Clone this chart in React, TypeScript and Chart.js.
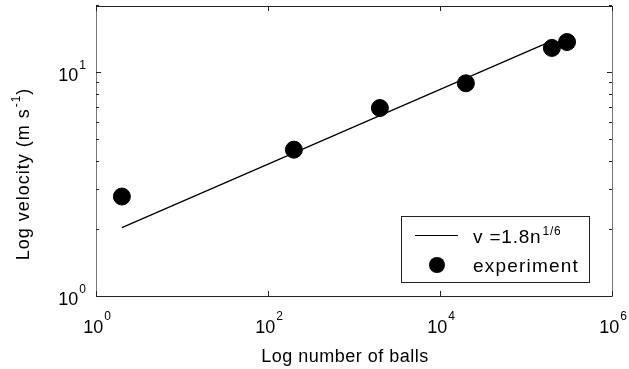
import React, { useEffect, useRef } from "react";
import { Chart, registerables } from "chart.js";

Chart.register(...registerables);

// Data
const expN = [2, 200, 2000, 20000, 200000, 300000];
const expV = [2.78, 4.5, 6.9, 8.9, 12.8, 13.6];
const fitN = [2, 200000];
const fitV = [2.02, 13.76];
const xMajorTicks = [1, 100, 10000, 1000000];
const xTickExps = ["0", "2", "4", "6"];
const yMajorTicks = [1, 10];
const yTickExps = ["0", "1"];
const yMinorTicks = [2, 3, 4, 5, 6, 7, 8, 9, 20];
const fitLabel = "v =1.8n";
const fitLabelExp = "1/6";
const expLabel = "experiment";
const xTitle = "Log number of balls";
const yTitleMain = "Log velocity (m s";
const yTitleExp = "-1";
const yTitleEnd = ")";

const FONT = "'Liberation Sans', Arial, Helvetica, sans-serif";

function drawSup(
  ctx: CanvasRenderingContext2D,
  base: string,
  exp: string,
  tail: string,
  x: number,
  y: number,
  align: "left" | "center" | "right",
  baseSize: number,
  expSize: number,
  raise: number,
  spacing = 0
) {
  ctx.save();
  (ctx as any).letterSpacing = spacing + "px";
  ctx.font = `${baseSize}px ${FONT}`;
  const wb = ctx.measureText(base).width;
  const wt = tail ? ctx.measureText(tail).width : 0;
  ctx.font = `${expSize}px ${FONT}`;
  const we = ctx.measureText(exp).width;
  const total = wb + we + wt + 1;
  let sx = x;
  if (align === "center") sx = x - total / 2;
  else if (align === "right") sx = x - total;
  ctx.textAlign = "left";
  ctx.textBaseline = "alphabetic";
  ctx.fillStyle = "#000";
  ctx.font = `${baseSize}px ${FONT}`;
  ctx.fillText(base, sx, y);
  ctx.font = `${expSize}px ${FONT}`;
  ctx.fillText(exp, sx + wb + 1, y - raise);
  if (tail) {
    ctx.font = `${baseSize}px ${FONT}`;
    ctx.fillText(tail, sx + wb + we + 1, y);
  }
  ctx.restore();
}

const decorPlugin = {
  id: "decor",
  afterDraw(chart: any) {
    const ctx: CanvasRenderingContext2D = chart.ctx;
    const xs = chart.scales.x;
    const ys = chart.scales.y;
    const { left, right, top, bottom } = chart.chartArea;
    ctx.save();
    // box
    ctx.lineWidth = 1;
    ctx.strokeStyle = "#222";
    ctx.beginPath();
    ctx.moveTo(left, top + 0.5);
    ctx.lineTo(right, top + 0.5);
    ctx.moveTo(left, bottom + 0.5);
    ctx.lineTo(right, bottom + 0.5);
    ctx.stroke();
    ctx.strokeStyle = "#777";
    ctx.beginPath();
    ctx.moveTo(left + 0.5, top);
    ctx.lineTo(left + 0.5, bottom + 1);
    ctx.moveTo(right + 0.5, top);
    ctx.lineTo(right + 0.5, bottom + 1);
    ctx.stroke();
    // ticks
    ctx.strokeStyle = "#222";
    ctx.beginPath();
    xMajorTicks.forEach((v) => {
      const px = Math.round(xs.getPixelForValue(v)) + 0.5;
      ctx.moveTo(px, bottom);
      ctx.lineTo(px, bottom - 5);
      ctx.moveTo(px, top);
      ctx.lineTo(px, top + 5);
    });
    yMajorTicks.forEach((v) => {
      const py = Math.round(ys.getPixelForValue(v)) + 0.5;
      ctx.moveTo(left, py);
      ctx.lineTo(left + 5, py);
      ctx.moveTo(right, py);
      ctx.lineTo(right - 5, py);
    });
    yMinorTicks.forEach((v) => {
      const py = Math.round(ys.getPixelForValue(v)) + 0.5;
      ctx.moveTo(left, py);
      ctx.lineTo(left + 3, py);
      ctx.moveTo(right, py);
      ctx.lineTo(right - 3, py);
    });
    ctx.stroke();
    // tick labels
    xMajorTicks.forEach((v, i) => {
      const px = xs.getPixelForValue(v);
      drawSup(ctx, "10", xTickExps[i], "", px + 1, bottom + 37, "center", 18, 12, 13);
    });
    yMajorTicks.forEach((v, i) => {
      const py = ys.getPixelForValue(v);
      drawSup(ctx, "10", yTickExps[i], "", left - 10, py + 9, "right", 18, 12, 12);
    });
    // axis titles
    ctx.save();
    (ctx as any).letterSpacing = "0.5px";
    ctx.font = `18px ${FONT}`;
    ctx.fillStyle = "#000";
    ctx.textAlign = "center";
    ctx.textBaseline = "alphabetic";
    ctx.fillText(xTitle, 345, 362);
    ctx.restore();

    ctx.save();
    ctx.translate(29, 174);
    ctx.rotate(-Math.PI / 2);
    drawSup(ctx, yTitleMain, yTitleExp, yTitleEnd, 0, 0, "center", 18, 12, 9, 1);
    ctx.restore();

    // legend
    const lx = 401, ly = 216, lw = 188, lh = 66;
    ctx.fillStyle = "#fff";
    ctx.fillRect(lx, ly, lw, lh);
    ctx.strokeStyle = "#222";
    ctx.lineWidth = 1;
    ctx.strokeRect(lx + 0.5, ly + 0.5, lw, lh);
    ctx.strokeStyle = "#000";
    ctx.lineWidth = 1.2;
    ctx.beginPath();
    ctx.moveTo(415, 235.5);
    ctx.lineTo(458, 235.5);
    ctx.stroke();
    ctx.fillStyle = "#000";
    ctx.beginPath();
    ctx.arc(437, 265, 8, 0, Math.PI * 2);
    ctx.fill();
    drawSup(ctx, fitLabel, fitLabelExp, "", 473, 243, "left", 19, 12, 8, 0.8);
    ctx.save();
    (ctx as any).letterSpacing = "1.2px";
    ctx.font = `19px ${FONT}`;
    ctx.fillStyle = "#000";
    ctx.textAlign = "left";
    ctx.fillText(expLabel, 473, 272);
    ctx.restore();

    ctx.restore();
  },
};

export default function App() {
  const ref = useRef<HTMLCanvasElement>(null);
  useEffect(() => {
    if (!ref.current) return;
    const chart = new Chart(ref.current, {
      type: "scatter",
      data: {
        datasets: [
          {
            type: "line",
            label: "fit",
            data: fitN.map((n, i) => ({ x: n, y: fitV[i] })),
            borderColor: "#000",
            borderWidth: 1.3,
            pointRadius: 0,
            fill: false,
            order: 2,
          } as any,
          {
            label: "experiment",
            data: expN.map((n, i) => ({ x: n, y: expV[i] })),
            backgroundColor: "#000",
            borderColor: "#000",
            pointRadius: 8.5,
            pointHoverRadius: 8.5,
            order: 1,
          },
        ],
      },
      options: {
        animation: false,
        responsive: false,
        maintainAspectRatio: false,
        layout: { autoPadding: false, padding: { top: 6, right: 17, left: 0, bottom: 0 } },
        plugins: { legend: { display: false }, tooltip: { enabled: false } },
        scales: {
          x: {
            type: "logarithmic",
            min: 1,
            max: 1000000,
            ticks: { display: false },
            grid: { display: false },
            border: { display: false },
            afterFit: (s: any) => {
              s.height = 73;
            },
          },
          y: {
            type: "logarithmic",
            min: 1,
            max: 19.7,
            ticks: { display: false },
            grid: { display: false },
            border: { display: false },
            afterFit: (s: any) => {
              s.width = 96;
            },
          },
        },
      },
      plugins: [decorPlugin],
    });
    return () => chart.destroy();
  }, []);
  return (
    <div style={{ position: "fixed", left: 0, top: 0, width: 629, height: 369, background: "#fff" }}>
      <canvas ref={ref} width={629} height={369} style={{ width: 629, height: 369 }} />
    </div>
  );
}
